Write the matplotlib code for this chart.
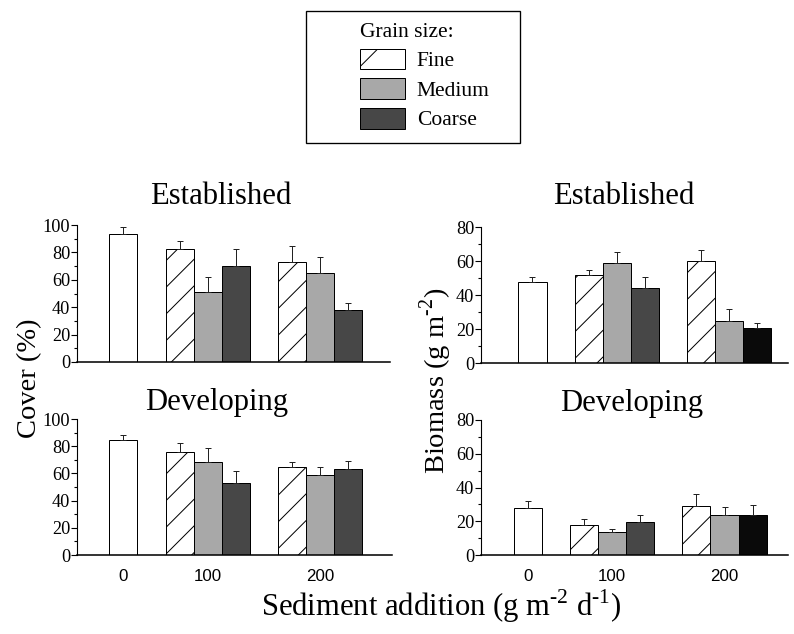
import numpy as np
import matplotlib
matplotlib.use("Agg")
import matplotlib.pyplot as plt
from matplotlib.patches import Patch, Rectangle
from matplotlib.ticker import MultipleLocator

plt.rcParams['font.family'] = ['Liberation Serif', 'DejaVu Serif']
plt.rcParams['mathtext.fontset'] = 'custom'
plt.rcParams['mathtext.rm'] = 'Liberation Serif'
plt.rcParams['hatch.linewidth'] = 0.45

# data: bar order = control, 100 fine/medium/coarse, 200 fine/medium/coarse
treatments = ['0', '100', '200']
grain_sizes = ['Fine', 'Medium', 'Coarse']

cover_est = [93.2, 82.7, 51.0, 70.2, 72.7, 64.9, 37.8]
cover_est_err = [5.1, 5.8, 10.7, 12.0, 11.9, 11.4, 5.6]
cover_dev = [84.7, 75.8, 68.1, 52.8, 64.7, 58.5, 63.5]
cover_dev_err = [3.9, 6.2, 10.4, 9.2, 3.9, 6.4, 5.9]
bio_est = [47.9, 51.6, 58.9, 43.9, 59.9, 25.0, 20.5]
bio_est_err = [2.9, 3.4, 6.3, 6.9, 6.5, 6.5, 2.8]
bio_dev = [27.6, 18.0, 13.5, 19.4, 28.8, 23.5, 23.5]
bio_dev_err = [4.4, 3.2, 2.2, 4.5, 7.5, 4.7, 5.9]

# layout
W, H = 794, 634
DPI = 160
xpos = np.array([0, 2, 3, 4, 6, 7, 8])
group_ticks = [0, 3, 7]
white, medium, coarse, black = 'white', '#a8a8a8', '#474747', '#0a0a0a'
hatches = ['', '//', '', '', '//', '', '']


def px(x0, x1, y0, y1):
    # pixel box -> figure fraction rect
    return [x0 / W, 1 - y1 / H, (x1 - x0) / W, (y1 - y0) / H]


fig = plt.figure(figsize=(W / DPI, H / DPI), dpi=DPI)

panels = [
    (px(77, 390, 225, 362), cover_est, cover_est_err, 100, (-1.65, 9.48), coarse, False),
    (px(481, 788, 227, 363), bio_est, bio_est_err, 80, (-1.83, 9.09), black, False),
    (px(77, 392, 419, 555), cover_dev, cover_dev_err, 100, (-1.65, 9.55), coarse, True),
    (px(481, 788, 420, 555), bio_dev, bio_dev_err, 80, (-1.67, 9.26), black, True),
]

for rect, vals, errs, ymax, xl, c200, show_x in panels:
    ax = fig.add_axes(rect)
    colors = [white, white, medium, coarse, white, medium, c200]
    bars = ax.bar(xpos, vals, width=1.0, color=colors, edgecolor='black',
                  linewidth=0.45, zorder=2)
    for b, h in zip(bars, hatches):
        b.set_hatch(h)
    ax.errorbar(xpos, vals, yerr=[np.zeros(len(errs)), errs], fmt='none',
                ecolor='#222222', elinewidth=0.45, capsize=1.4, capthick=0.45,
                zorder=3)
    ax.set_xlim(*xl)
    ax.set_ylim(0, ymax)
    ax.yaxis.set_major_locator(MultipleLocator(20))
    ax.yaxis.set_minor_locator(MultipleLocator(10))
    for s in ['top', 'right']:
        ax.spines[s].set_visible(False)
    ax.spines['left'].set_linewidth(0.5)
    ax.spines['bottom'].set_linewidth(0.7)
    ax.tick_params(axis='y', which='major', length=2.5, width=0.5, pad=0.5,
                   labelsize=8.2)
    ax.tick_params(axis='y', which='minor', length=1.5, width=0.5)
    ax.tick_params(axis='x', length=0, pad=6.5)
    if show_x:
        ax.set_xticks(group_ticks)
        ax.set_xticklabels(treatments, family='Liberation Sans', fontsize=7.6)
    else:
        ax.set_xticks([])

# panel titles
fig.text(221 / W, 1 - 204 / H, 'Established', ha='center', va='baseline', fontsize=13.8)
fig.text(624 / W, 1 - 204 / H, 'Established', ha='center', va='baseline', fontsize=13.8)
fig.text(217 / W, 1 - 410 / H, 'Developing', ha='center', va='baseline', fontsize=13.8)
fig.text(632 / W, 1 - 411 / H, 'Developing', ha='center', va='baseline', fontsize=13.8)

# axis labels (short hyphen in the exponents, as in the original)
fig.text(30 / W, 1 - 378 / H, 'Cover (%)', rotation=90, ha='center', va='center',
         fontsize=12.8)
fig.text(436 / W, 1 - 381 / H, 'Biomass (g m$^{\u2010\\mathrm{2}}$)', rotation=90,
         ha='center', va='center', fontsize=12.8)
fig.text(441 / W, 1 - 606 / H,
         'Sediment addition (g m$^{\u2010\\mathrm{2}}$ d$^{\u2010\\mathrm{1}}$)',
         ha='center', va='center', fontsize=13.8)

# legend with a separate frame
handles = [Patch(facecolor=white, edgecolor='black', linewidth=0.45, hatch='/'),
           Patch(facecolor=medium, edgecolor='black', linewidth=0.45),
           Patch(facecolor=coarse, edgecolor='black', linewidth=0.45)]
fig.legend(handles, grain_sizes, title='Grain size:', loc='upper left',
           bbox_to_anchor=(349 / W, 1 - 12 / H), frameon=False, borderpad=0,
           fontsize=9.7, title_fontsize=9.7, handlelength=2.1, handleheight=1.1,
           labelspacing=0.32, handletextpad=0.55, alignment='left')
fig.patches.append(Rectangle((306 / W, 1 - 143 / H), 214 / W, 132 / H,
                             transform=fig.transFigure, fill=False,
                             edgecolor='black', linewidth=0.6))

fig.savefig('out.png', dpi=DPI)
